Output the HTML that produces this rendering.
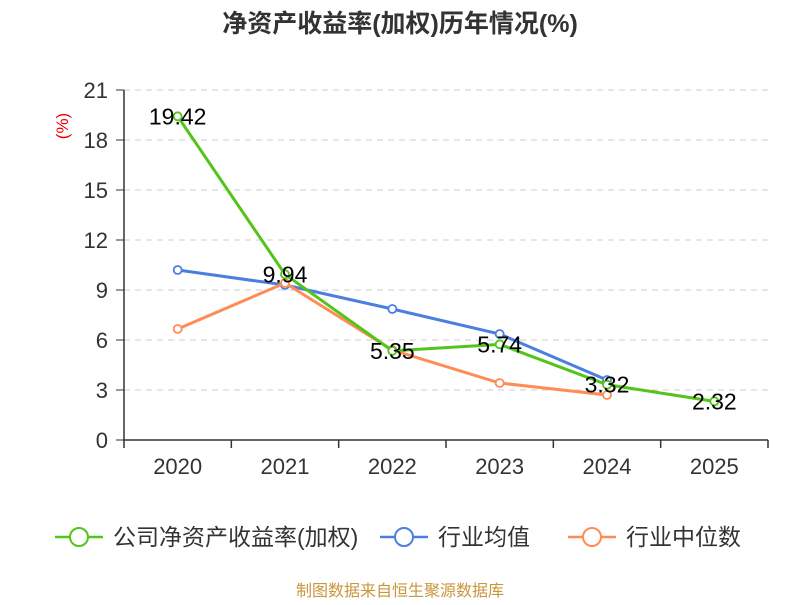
<!DOCTYPE html>
<html><head><meta charset="utf-8"><style>
body{margin:0;background:#fff;width:800px;height:600px;overflow:hidden;font-family:"Liberation Sans","Noto Sans CJK SC",sans-serif}
</style></head><body>
<svg width="800" height="600" id="chart" xmlns="http://www.w3.org/2000/svg" font-family="Liberation Sans, Noto Sans CJK SC, sans-serif">
<text x="400" y="32" text-anchor="middle" font-size="25" font-weight="bold" fill="#333">净资产收益率(加权)历年情况(%)</text>
<text transform="translate(68,126) rotate(-90)" text-anchor="middle" font-size="17" fill="#e00">(%)</text>
<g id="grid"></g><g id="axes"></g><g id="series"></g><g id="labels"></g>
<g font-size="23" fill="#333">
<g><line x1="55" y1="537" x2="103" y2="537" stroke="#52c41a" stroke-width="2.5"/><circle cx="79" cy="537" r="9" fill="#fff" stroke="#52c41a" stroke-width="2"/><text x="113" y="545">公司净资产收益率(加权)</text></g>
<g><line x1="380" y1="537" x2="428" y2="537" stroke="#4a7fe0" stroke-width="2.5"/><circle cx="404" cy="537" r="9" fill="#fff" stroke="#4a7fe0" stroke-width="2"/><text x="438" y="545">行业均值</text></g>
<g><line x1="568" y1="537" x2="616" y2="537" stroke="#ff8c55" stroke-width="2.5"/><circle cx="592" cy="537" r="9" fill="#fff" stroke="#ff8c55" stroke-width="2"/><text x="626" y="545">行业中位数</text></g>
</g>
<text x="400" y="596" text-anchor="middle" font-size="16" fill="#c8963c">制图数据来自恒生聚源数据库</text>
</svg>
<script>
const categories=['2020','2021','2022','2023','2024','2025'];
const companyValues=[19.42,9.94,5.35,5.74,3.32,2.32];
const avgValues=[10.2,9.3,7.86,6.36,3.6,null];
const medianValues=[6.66,9.42,5.4,3.42,2.7,null];
const yTicks=[0,3,6,9,12,15,18,21];
const NS='http://www.w3.org/2000/svg';
const L=124,R=768,T=90,B=440,yMax=21;
const bw=(R-L)/categories.length;
const xS=i=>L+bw*(i+0.5);
const yS=v=>B-(v/yMax)*(B-T);
function mk(tag,attrs,parent){const e=document.createElementNS(NS,tag);for(const k in attrs)e.setAttribute(k,attrs[k]);parent.appendChild(e);return e;}
const grid=document.getElementById('grid'),axes=document.getElementById('axes'),ser=document.getElementById('series'),lab=document.getElementById('labels');
yTicks.forEach(t=>{
 const y=yS(t);
 if(t>0){const g=mk('line',{x1:L,x2:R,y1:y,y2:y,stroke:'#ccc','stroke-dasharray':'6,5','stroke-width':1},grid);
 
 }
 const tk=mk('line',{x1:L-8,x2:L,y1:y,y2:y,stroke:'#333'},axes);
 
 
 const tx=mk('text',{x:L-16,y:y+8,'text-anchor':'end','font-size':22,fill:'#333'},axes);tx.textContent=t;
 
 
});
const ya=mk('line',{x1:L,x2:L,y1:T,y2:B,stroke:'#333','stroke-width':1.5},axes);


const xa=mk('line',{x1:L,x2:R,y1:B,y2:B,stroke:'#333','stroke-width':1.5},axes);


for(let i=0;i<=categories.length;i++){const x=L+bw*i;const t=mk('line',{x1:x,x2:x,y1:B,y2:B+8,stroke:'#333','stroke-width':1.5},axes);
 
 }
categories.forEach((c,i)=>{const t=mk('text',{x:xS(i),y:B+34,'text-anchor':'middle','font-size':22,fill:'#333'},axes);t.textContent=c;
 
 });
function series(vals,color,name,labels){
 const pts=vals.map((v,i)=>v==null?null:[xS(i),yS(v)]).filter(p=>p);
 const pl=mk('polyline',{points:pts.map(p=>p.join(',')).join(' '),fill:'none',stroke:color,'stroke-width':3},ser);
 
 
 pts.forEach(p=>{const c=mk('circle',{cx:p[0],cy:p[1],r:4,fill:'#fff',stroke:color,'stroke-width':1.8},ser);
  
  });
 if(labels)vals.forEach((v,i)=>{if(v==null)return;const t=mk('text',{x:xS(i),y:yS(v)+8,'text-anchor':'middle','font-size':23,fill:'#000'},lab);t.textContent=v.toFixed(2);
  
  });
}
series(avgValues,'#4a7fe0','industry-avg',false);
series(medianValues,'#ff8c55','industry-median',false);
series(companyValues,'#52c41a','company-roe',true);
</script>
</body></html>
